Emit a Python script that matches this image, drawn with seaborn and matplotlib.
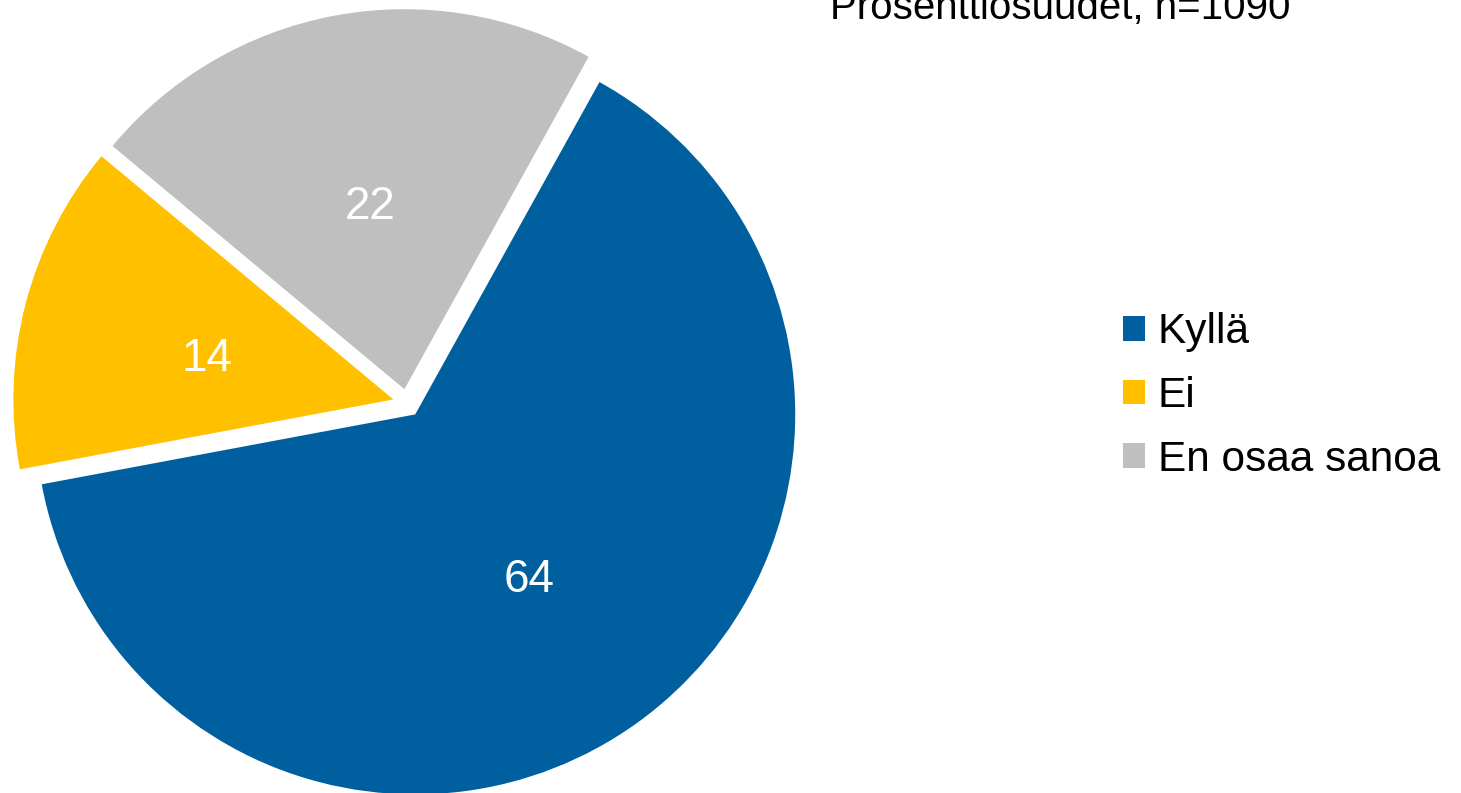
import matplotlib
matplotlib.use("Agg")
import matplotlib.pyplot as plt
import matplotlib.transforms as mtransforms
import seaborn as sns
from matplotlib.patches import Patch

categories = ["Kyllä", "Ei", "En osaa sanoa"]
values = [64, 14, 22]
colors = ["#00609F", "#FFC000", "#BFBFBF"]
title = "Prosenttiosuudet, n=1090"

sns.set_theme(style="white")
plt.rcParams["font.family"] = ["Liberation Sans", "DejaVu Sans"]

W, H = 1461, 793
fig = plt.figure(figsize=(W / 100, H / 100), dpi=100)
fig.patch.set_facecolor("white")

cx, cy, r = 407, 403, 380
ax = fig.add_axes([(cx - r) / W, (H - cy - r) / H, 2 * r / W, 2 * r / H])
wedges, texts, autotexts = ax.pie(
    values,
    colors=colors,
    startangle=61,
    counterclock=False,
    explode=[0.037] * len(values),
    autopct="%.0f",
    pctdistance=0.51,
    wedgeprops=dict(linewidth=0, clip_on=False),
    textprops=dict(color="white", fontsize=33),
)
shift = mtransforms.offset_copy(ax.transData, fig=fig, x=1, y=-8, units="dots")
for t in autotexts:
    t.set_transform(shift)
ax.set_xlim(-1, 1)
ax.set_ylim(-1, 1)
ax.set_aspect("auto")
ax.axis("off")

handles = [Patch(facecolor=c, edgecolor="none") for c in colors]
leg = fig.legend(
    handles, categories,
    loc="center left",
    bbox_to_anchor=(1123 / W, 1 - 396 / H),
    frameon=False,
    fontsize=30.5,
    handlelength=0.52,
    handleheight=0.52,
    handletextpad=0.3,
    labelspacing=0.56,
    borderpad=0,
    borderaxespad=0,
)
for t in leg.get_texts():
    t.set_color("black")

fig.text(830 / W, 1 - 19 / H, title, fontsize=29, va="baseline", ha="left", color="black")

fig.savefig("out.png", dpi=100, facecolor="white")
